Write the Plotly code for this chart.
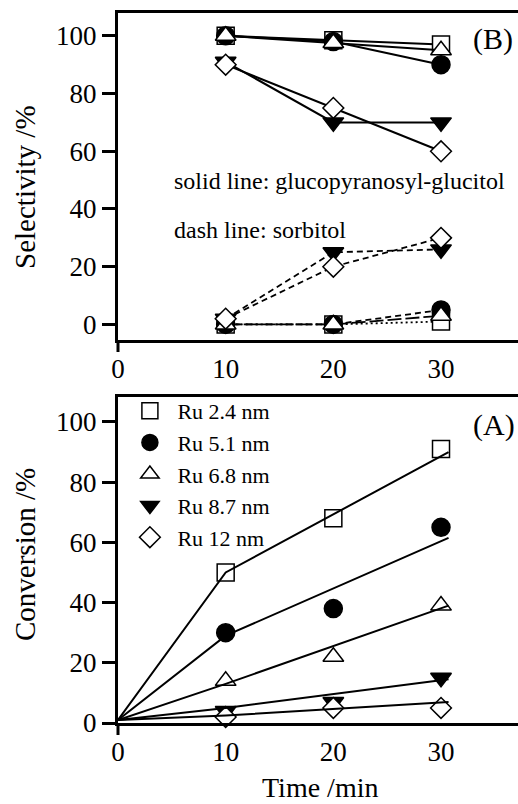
import plotly.graph_objects as go

# Reaction time (min)
time = [10, 20, 30]
catalysts = ["Ru 2.4 nm", "Ru 5.1 nm", "Ru 6.8 nm", "Ru 8.7 nm", "Ru 12 nm"]

# Selectivity to glucopyranosyl-glucitol (%)
gg_24 = [100, 98.5, 97]
gg_51 = [100, 98, 90]
gg_68 = [100, 97.5, 95]
gg_87 = [91, 70, 70]
gg_12 = [90, 75, 60]

# Selectivity to sorbitol (%)
sor_24 = [0, 0, 1]
sor_51 = [0, 0, 5]
sor_68 = [0, 0, 3]
sor_87 = [2, 25, 26]
sor_12 = [2, 20, 30]

# Conversion (%)
conv_24 = [50, 68, 91]
conv_51 = [30, 38, 65]
conv_68 = [14, 22, 39]
conv_87 = [4, 7, 15]
conv_12 = [2, 5, 5]

# Trend lines drawn through the conversion data
fit_t = [0, 10, 30.7]
fit_24 = [1, 50, 90]
fit_51 = [1, 29, 61.5]
fit_68 = [1, 13, 39]
fit_87 = [1, 5, 14.5]
fit_12 = [1, 2.5, 7]

gg_all = [gg_24, gg_51, gg_68, gg_87, gg_12]
sor_all = [sor_24, sor_51, sor_68, sor_87, sor_12]
conv_all = [conv_24, conv_51, conv_68, conv_87, conv_12]
fit_all = [fit_24, fit_51, fit_68, fit_87, fit_12]

# Marker styling per catalyst
symbols = ["square", "circle", "triangle-up", "triangle-down", "diamond"]
fills = ["white", "black", "white", "black", "white"]
msizes = [17, 18, 18, 18, 16]
sor_dash = ["2px,3px", "6px,4px", "14px,4px", "6px,4px", "6px,4px"]

FONT = "Liberation Serif, Times New Roman, serif"
X_MAX = 37.15

fig = go.Figure()

def marker(i):
    return dict(symbol=symbols[i], size=msizes[i], color=fills[i],
                line=dict(color="black", width=1.5))

# Panel B: selectivity
for i in range(5):
    fig.add_trace(go.Scatter(
        x=time, y=gg_all[i], mode="lines+markers", xaxis="x", yaxis="y",
        line=dict(color="black", width=2), marker=marker(i),
        showlegend=False, cliponaxis=False))
for i in range(5):
    fig.add_trace(go.Scatter(
        x=time, y=sor_all[i], mode="lines+markers", xaxis="x", yaxis="y",
        line=dict(color="black", width=1.8, dash=sor_dash[i]), marker=marker(i),
        showlegend=False, cliponaxis=False))

# Panel A: conversion
for i in range(5):
    fig.add_trace(go.Scatter(
        x=time, y=conv_all[i], mode="markers", xaxis="x2", yaxis="y2",
        marker=marker(i), name=catalysts[i], showlegend=True, cliponaxis=False))
for i in range(5):
    fig.add_trace(go.Scatter(
        x=fit_t, y=fit_all[i], mode="lines", xaxis="x2", yaxis="y2",
        line=dict(color="black", width=2), showlegend=False, hoverinfo="skip"))

TOP_LO, TOP_HI = 0.5394, 1.0
BOT_LO, BOT_HI = 0.0, 0.4596

xcommon = dict(range=[0, X_MAX], tickvals=[0, 10, 20, 30], ticks="outside",
               ticklen=3, tickcolor="rgba(0,0,0,0)", showline=True,
               linecolor="black", linewidth=3, mirror=True, showgrid=False,
               zeroline=False, tickfont=dict(family=FONT, size=27, color="black"))
ycommon = dict(tickvals=[0, 20, 40, 60, 80, 100], ticks="outside", ticklen=13,
               tickwidth=2.5, tickcolor="black", showline=True, linecolor="black",
               linewidth=3, showgrid=False, zeroline=False,
               tickfont=dict(family=FONT, size=27, color="black"))

fig.update_layout(
    width=518, height=804,
    margin=dict(l=118, r=0, t=13, b=81),
    paper_bgcolor="white", plot_bgcolor="white",
    font=dict(family=FONT, color="black"),
    xaxis=dict(domain=[0, 1], anchor="y", **xcommon),
    yaxis=dict(domain=[TOP_LO, TOP_HI], anchor="x", range=[-5.4, 107.9], **ycommon),
    xaxis2=dict(domain=[0, 1], anchor="y2", **xcommon),
    yaxis2=dict(domain=[BOT_LO, BOT_HI], anchor="x2", range=[0, 108.4], **ycommon),
    legend=dict(x=0.011, y=0.469, xanchor="left", yanchor="top",
                bgcolor="rgba(0,0,0,0)", borderwidth=0, itemwidth=45,
                font=dict(family=FONT, size=22, color="black"),
                tracegroupgap=0, itemsizing="trace"),
)

# Short downward tick at t = 0 below each panel
for lo in (TOP_LO, BOT_LO):
    fig.add_shape(type="line", xref="paper", yref="paper",
                  x0=0, x1=0, y0=lo, y1=lo - 12 / 710,
                  line=dict(color="black", width=3))

ann = [
    dict(text="Selectivity /%", x=-0.2325, y=0.755, xref="paper", yref="paper",
         textangle=-90, font=dict(size=29)),
    dict(text="Conversion /%", x=-0.2325, y=0.2366, xref="paper", yref="paper",
         textangle=-90, font=dict(size=29)),
    dict(text="Time /min", x=0.505, y=-0.0915, xref="paper", yref="paper",
         font=dict(size=28)),
    dict(text="solid line: glucopyranosyl-glucitol", x=5, y=49.7, xref="x", yref="y",
         xanchor="left", font=dict(size=24)),
    dict(text="dash line: sorbitol", x=5, y=32.8, xref="x", yref="y",
         xanchor="left", font=dict(size=24)),
    dict(text="(B)", x=0.9925, y=99, xref="paper", yref="y", xanchor="right",
         font=dict(size=30)),
    dict(text="(A)", x=0.9975, y=99, xref="paper", yref="y2", xanchor="right",
         font=dict(size=30)),
]
for a in ann:
    a.setdefault("xanchor", "center")
    a["yanchor"] = "middle"
    a["showarrow"] = False
    a["font"] = dict(family=FONT, color="black", size=a["font"]["size"])
    fig.add_annotation(**a)

fig.write_html("out.html")
